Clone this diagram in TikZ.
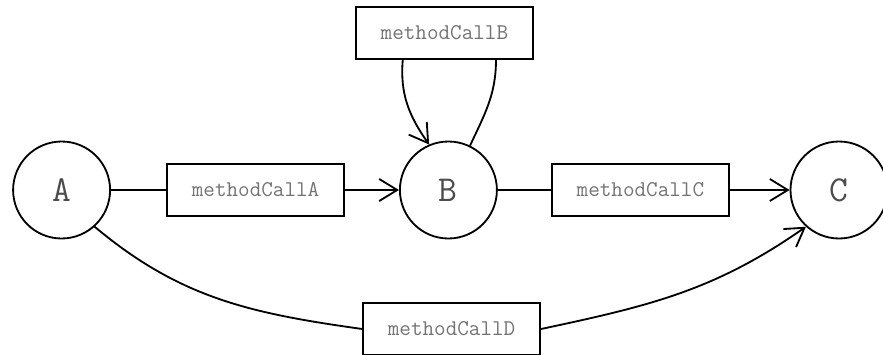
\documentclass[tikz,border=0pt]{standalone}
\usetikzlibrary{arrows.meta}
\begin{document}
\begin{tikzpicture}[
    >={Straight Barb[length=0.45cm,width=0.55cm]},
    line width=1.3pt,
    state/.style={draw,circle,minimum size=2.425cm,inner sep=0pt,
      font=\ttfamily\fontsize{26}{26}\selectfont,text=black!70},
    call/.style={draw,rectangle,minimum width=4.425cm,minimum height=1.28cm,
      inner sep=0pt,font=\ttfamily\fontsize{16}{16}\selectfont,text=black!55}]
  \useasboundingbox (0,0) rectangle (22.075,8.85);
  \draw
    (1.54,4.1) node[state] (A){A}
    (11.21,4.1) node[state] (B){B}
    (20.975,4.1) node[state] (C){C}
    (6.39,4.1) node[call] (mA){methodCallA}
    (11.11,8.025) node[call] (mB){methodCallB}
    (16.01,4.1) node[call] (mC){methodCallC}
    (11.29,0.625) node[call] (mD){methodCallD};
  \begin{scope}
    \draw (A) to (mA);
    \draw[->] (mA) to (B);
    \draw (B) to (mC);
    \draw[->] (mC) to (C);
    \draw (B.64) to[out=65,in=-90] ([xshift=1.29cm]mB.south);
    \draw[->] ([xshift=-1.04cm]mB.south) to[out=-95,in=125] (B.113);
    \draw (A.-48) to[out=-40,in=172] (mD.west);
    \draw[->] (mD.east) to[out=12,in=215] (C.228);
  \end{scope}
\end{tikzpicture}
\end{document}
